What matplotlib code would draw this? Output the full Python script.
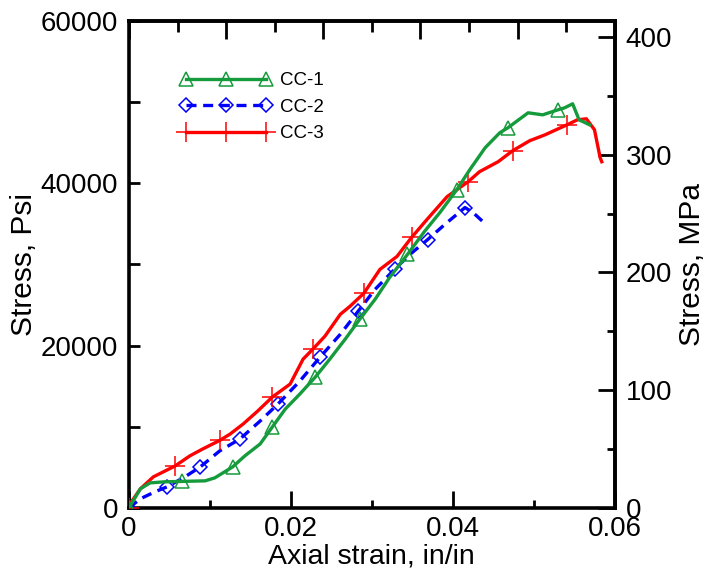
import numpy as np
import matplotlib
matplotlib.use('Agg')
import matplotlib.pyplot as plt
from matplotlib.ticker import MultipleLocator, FuncFormatter, NullFormatter

plt.rcParams['font.family'] = ['Liberation Sans', 'DejaVu Sans']

# CC-1 (green, triangles)
cc1_strain = [0, 0.0014, 0.0026, 0.0044, 0.0065, 0.0094, 0.0106, 0.0128, 0.0143, 0.0162,
              0.0177, 0.0193, 0.0211, 0.0230, 0.0248, 0.0267, 0.0285, 0.0304, 0.0322, 0.0344,
              0.0365, 0.0384, 0.0405, 0.0421, 0.0440, 0.0458, 0.0468, 0.0493, 0.0511, 0.0530,
              0.0538, 0.0548, 0.0556, 0.0569]
cc1_stress = [0, 2340, 3070, 3200, 3250, 3320, 3690, 5040, 6390, 7870,
              9960, 12170, 14020, 16100, 18320, 20780, 23240, 25700, 28400, 31230,
              34060, 36390, 39220, 41680, 44390, 46230, 46840, 48690, 48440, 49060,
              49300, 49800, 47830, 47210]
cc1_marks = [0, 4, 7, 10, 13, 16, 19, 22, 26, 29]

# CC-2 (blue, diamonds, dashed)
cc2_strain = [0, 0.0014, 0.0032, 0.0047, 0.0069, 0.0088, 0.0112, 0.0137, 0.0162, 0.0184,
              0.0211, 0.0236, 0.0261, 0.0283, 0.0304, 0.0328, 0.0347, 0.0369, 0.0390, 0.0415,
              0.0425, 0.0437]
cc2_stress = [0, 1110, 1970, 2580, 3810, 5040, 7010, 8480, 10700, 12790,
              15620, 18570, 21390, 24220, 26930, 29390, 31230, 33070, 34920, 37010,
              36390, 35290]
cc2_marks = [0, 3, 5, 7, 9, 11, 13, 15, 17, 19]

# CC-3 (red, plus)
cc3_strain = [0, 0.0003, 0.0014, 0.0030, 0.0057, 0.0075, 0.0091, 0.0112, 0.0125, 0.0141,
              0.0159, 0.0177, 0.0199, 0.0215, 0.0227, 0.0242, 0.0261, 0.0273, 0.0290, 0.0310,
              0.0331, 0.0349, 0.0368, 0.0393, 0.0419, 0.0433, 0.0456, 0.0474, 0.0495, 0.0514,
              0.0541, 0.0554, 0.0565, 0.0575, 0.0582, 0.0584]
cc3_stress = [0, 740, 2340, 3810, 5160, 6390, 7250, 8300, 9100, 10330,
              11930, 13650, 15250, 18320, 19550, 21150, 23850, 24840, 26430, 29390,
              30980, 33320, 35530, 38360, 40200, 41430, 42660, 44020, 45250, 45980,
              47210, 47830, 47950, 46600, 43160, 42660]
cc3_marks = [0, 4, 7, 11, 14, 18, 21, 24, 27, 30]

PSI_TO_MPA = 0.00689476

fig = plt.figure(figsize=(7.09, 5.85), dpi=100)
ax = fig.add_axes([0.182, 0.132, 0.685, 0.832])

green = '#169b3c'
ax.plot(cc2_strain, cc2_stress, color='#0000ff', lw=2.4, dashes=(3, 2),
        marker='D', markersize=7.5, mfc='none', mec='#0000ff', mew=1.1,
        markevery=cc2_marks, label='CC-2', zorder=3)
ax.plot(cc3_strain, cc3_stress, color='#ff0000', lw=2.4,
        marker='+', markersize=15, mec='#ff0000', mew=1.1,
        markevery=cc3_marks, label='CC-3', zorder=4)
ax.plot(cc1_strain, cc1_stress, color=green, lw=2.4,
        marker='^', markersize=10, mfc='none', mec=green, mew=1.1,
        markevery=cc1_marks, label='CC-1', zorder=5)

ax.set_xlim(0, 0.06)
ax.set_ylim(0, 60000)
ax.xaxis.set_major_locator(MultipleLocator(0.02))
ax.xaxis.set_minor_locator(MultipleLocator(0.01))
ax.xaxis.set_major_formatter(FuncFormatter(lambda v, p: '%g' % round(v, 4)))
ax.yaxis.set_major_locator(MultipleLocator(20000))
ax.yaxis.set_minor_locator(MultipleLocator(10000))

for s in ax.spines.values():
    s.set_linewidth(2.6)

ax.tick_params(axis='x', which='major', direction='in', length=12, width=2, labelsize=20, pad=6, top=False)
ax.tick_params(axis='x', which='minor', direction='in', length=6, width=2, top=False)
ax.tick_params(axis='y', which='both', direction='in', length=8, width=2, labelsize=20, pad=8, right=False)

ax.set_xlabel('Axial strain, in/in', fontsize=20.5, labelpad=1)
ax.set_ylabel('Stress, Psi', fontsize=21.5, labelpad=2)

# top ticks (no labels)
top = ax.secondary_xaxis('top')
top.xaxis.set_major_locator(MultipleLocator(0.012))
top.xaxis.set_minor_locator(MultipleLocator(0.006))
top.xaxis.set_major_formatter(NullFormatter())
top.tick_params(which='major', direction='in', length=13, width=2)
top.tick_params(which='minor', direction='in', length=8, width=2)
top.spines['top'].set_linewidth(2.6)

# right axis in MPa
right = ax.secondary_yaxis('right', functions=(lambda v: v * PSI_TO_MPA, lambda v: v / PSI_TO_MPA))
right.yaxis.set_major_locator(MultipleLocator(100))
right.yaxis.set_minor_locator(MultipleLocator(50))
right.tick_params(which='major', direction='in', length=12, width=2, labelsize=20, pad=8)
right.tick_params(which='minor', direction='in', length=6, width=2)
right.spines['right'].set_linewidth(2.6)
right.set_ylabel('Stress, MPa', fontsize=21.5, labelpad=4)

handles, labels = ax.get_legend_handles_labels()
order = [2, 0, 1]
ax.legend([handles[i] for i in order], [labels[i] for i in order],
          loc='upper left', bbox_to_anchor=(0.07, 0.93), frameon=False, fontsize=13.5,
          numpoints=3, handlelength=4.9, handletextpad=0.45, labelspacing=0.5)

plt.savefig('out.png', dpi=100)
